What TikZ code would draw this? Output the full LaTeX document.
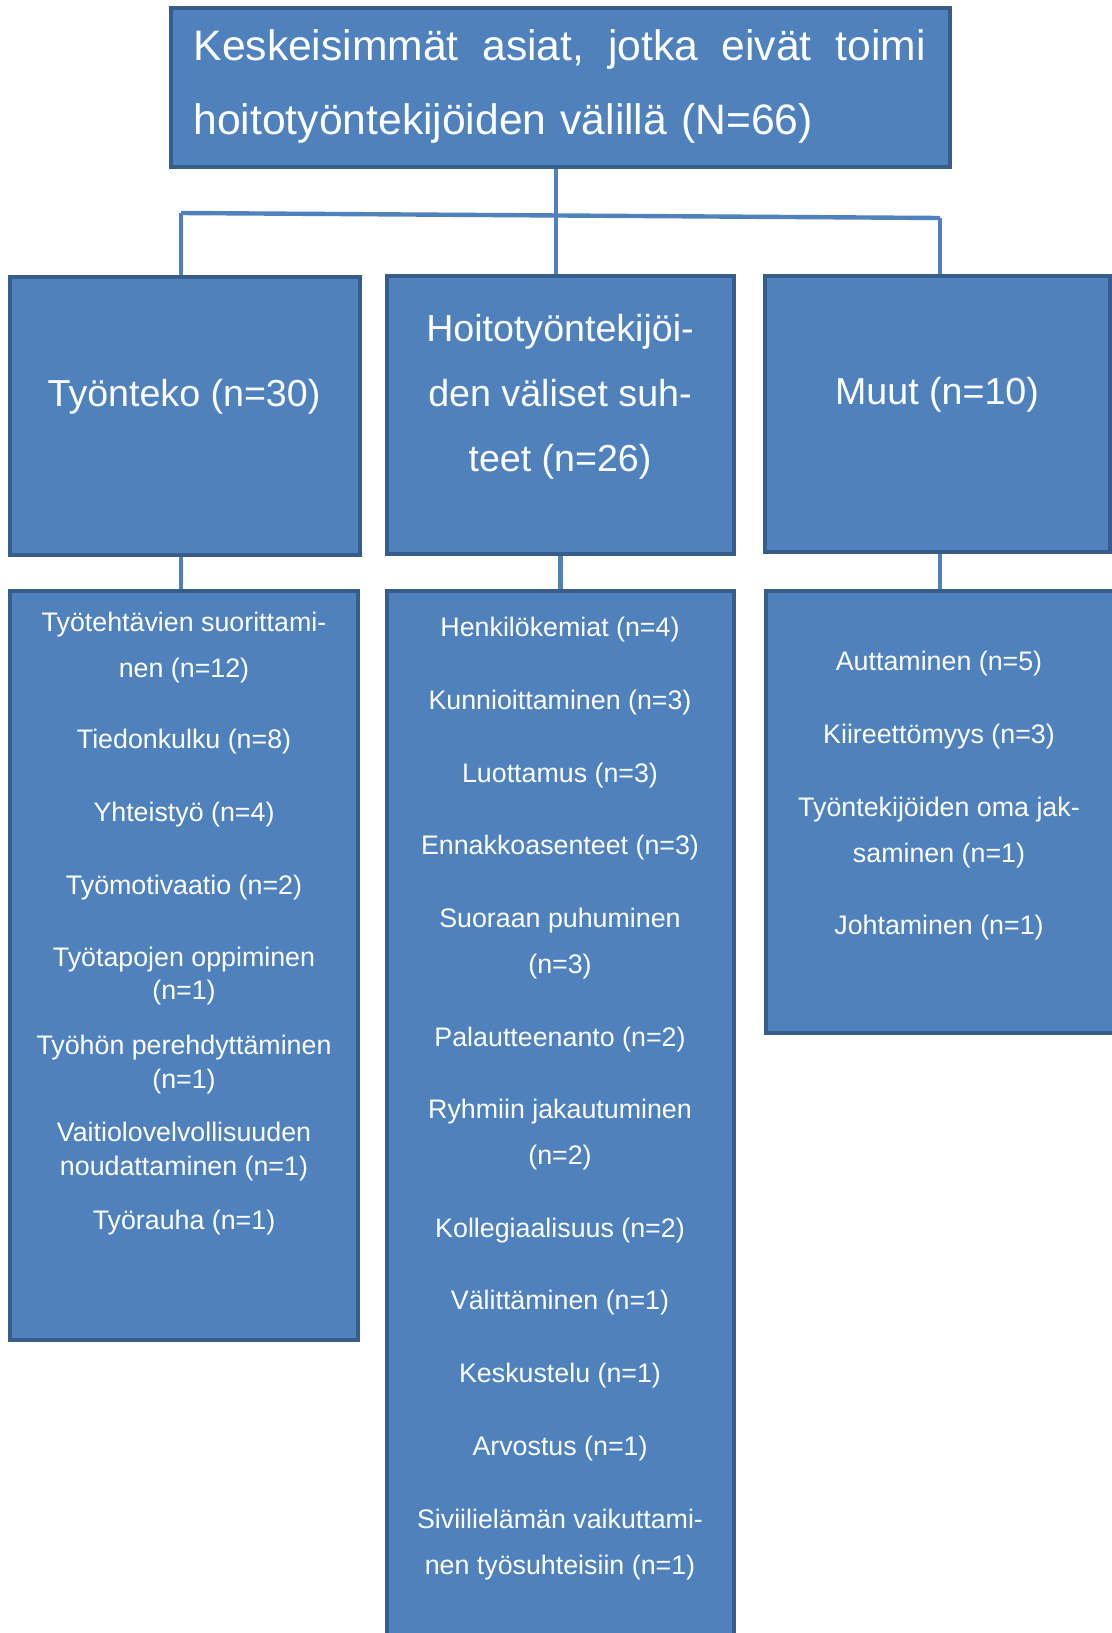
\documentclass[tikz,border=0pt]{standalone}
\usepackage{fontspec}
\setmainfont{Liberation Sans}
\usetikzlibrary{positioning, calc}
\definecolor{boxblue}{HTML}{4F81BD}
\definecolor{boxedge}{HTML}{385D8A}
\definecolor{linkblue}{HTML}{4F81BD}

\begin{document}
\begin{tikzpicture}[x=0.5pt, y=-0.5pt,
                box/.style={rectangle, draw=boxedge, fill=boxblue, line width=2pt, inner sep=0pt},
                link/.style={draw=linkblue, line width=2.2pt},
                head/.style={text=white, font=\fontsize{21.3}{37}\selectfont, align=left, text width=366pt, inner sep=0pt},
                group/.style={text=white, font=\fontsize{18.8}{32.5}\selectfont, align=center},
                item/.style={text=white, font=\fontsize{13.4}{23}\selectfont, align=center},
                tight/.style={font=\fontsize{13.4}{16.7}\selectfont}]
                \useasboundingbox (0,0) rectangle (1112,1633);
                \clip (0,0) rectangle (1112,1633);

                % boxes
                \node[box, minimum width=389.5pt, minimum height=79.5pt] (top) at (560.5,87.5) {};
                \node[box, minimum width=175pt, minimum height=139pt] (tyonteko) at (185,416) {};
                \node[box, minimum width=173.5pt, minimum height=139pt] (suhteet) at (560.5,415) {};
                \node[box, minimum width=172.5pt, minimum height=138pt] (muut) at (937.5,414) {};
                \node[box, minimum width=174pt, minimum height=374.5pt] (tyontekoala) at (184,965.5) {};
                \node[box, minimum width=173.5pt, minimum height=534.5pt] (suhteetala) at (560.5,1125.5) {};
                \node[box, minimum width=179.5pt, minimum height=221pt] (muutala) at (945.5,812) {};

                % connectors
                \coordinate (jl) at (181,213);
                \coordinate (jm) at (556,215);
                \coordinate (jr) at (940,218);
                \draw[link] (jl) -- (jr);
                \draw[link] (top.south -| jm) -- (jm);
                \draw[link] (jm) -- (suhteet.north -| jm);
                \draw[link] (jl) -- (tyonteko.north -| jl);
                \draw[link] (jr) -- (muut.north -| jr);
                \draw[link] (tyonteko.south -| jl) -- (tyontekoala.north -| jl);
                \draw[link] (suhteet.south) -- (suhteetala.north -| suhteet.south);
                \draw[link] (muut.south -| jr) -- (muutala.north -| jr);

                \begin{scope}[yshift=-1.8pt]
                % headings
                \node[head] (otsikko) at (559.6,82.8) {Keskeisimmät\hfill asiat,\hfill jotka\hfill eivät\hfill toimi\\hoitotyöntekijöiden välillä (N=66)};
                \node[group] (tyontekoteksti) at (184,393.6) {Työnteko (n=30)};
                \node[group] (suhteetteksti) at (560,393) {Hoitotyöntekijöi-\\den väliset suh-\\teet (n=26)};
                \node[group] (muutteksti) at (937,391.5) {Muut (n=10)};

                % Tyonteko
                \node[item] (t1) at (184,643.5) {Työtehtävien suorittami-\\nen (n=12)};
                \node[item] (t2) at (184,738.2) {Tiedonkulku (n=8)};
                \node[item] (t3) at (184,811.1) {Yhteistyö (n=4)};
                \node[item] (t4) at (184,884) {Työmotivaatio (n=2)};
                \node[item, tight] (t5) at (184,972.5) {Työtapojen oppiminen\\(n=1)};
                \node[item, tight] (t6) at (184,1061) {Työhön perehdyttäminen\\(n=1)};
                \node[item, tight] (t7) at (184,1148) {Vaitiolovelvollisuuden\\noudattaminen (n=1)};
                \node[item] (t8) at (184,1219.2) {Työrauha (n=1)};

                % suhteet
                \node[item] (s1) at (560,625.8) {Henkilökemiat (n=4)};
                \node[item] (s2) at (560,698.6) {Kunnioittaminen (n=3)};
                \node[item] (s3) at (560,771.5) {Luottamus (n=3)};
                \node[item] (s4) at (560,844.4) {Ennakkoasenteet (n=3)};
                \node[item] (s5) at (560,940.2) {Suoraan puhuminen\\(n=3)};
                \node[item] (s6) at (560,1036) {Palautteenanto (n=2)};
                \node[item] (s7) at (560,1131.3) {Ryhmiin jakautuminen\\(n=2)};
                \node[item] (s8) at (560,1226.5) {Kollegiaalisuus (n=2)};
                \node[item] (s9) at (560,1299.4) {Välittäminen (n=1)};
                \node[item] (s10) at (560,1372.3) {Keskustelu (n=1)};
                \node[item] (s11) at (560,1445.2) {Arvostus (n=1)};
                \node[item] (s12) at (560,1540.5) {Siviilielämän vaikuttami-\\nen työsuhteisiin (n=1)};

                % muut
                \node[item] (m1) at (939,660.1) {Auttaminen (n=5)};
                \node[item] (m2) at (939,733) {Kiireettömyys (n=3)};
                \node[item] (m3) at (939,828.8) {Työntekijöiden oma jak-\\saminen (n=1)};
                \node[item] (m4) at (939,923.5) {Johtaminen (n=1)};
                \end{scope}
            \end{tikzpicture}
\end{document}
